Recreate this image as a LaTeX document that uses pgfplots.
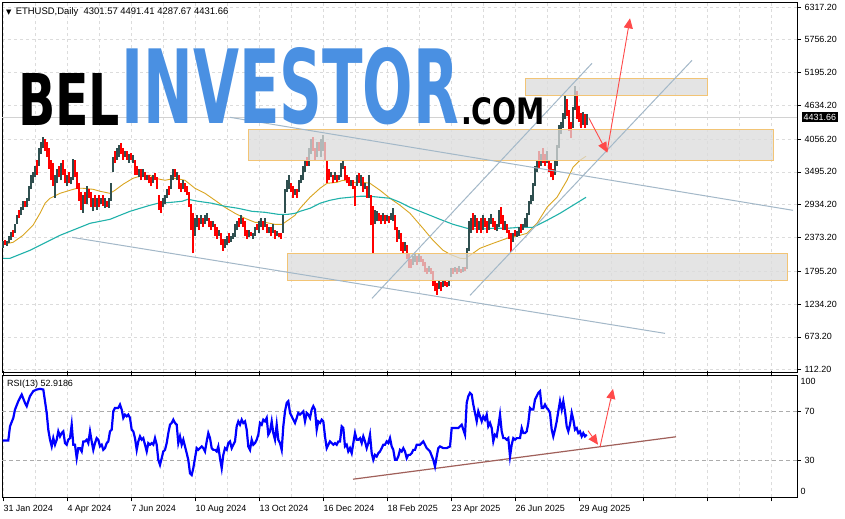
\documentclass[border=0pt]{standalone}
\usepackage{fontspec}
\setmainfont{Liberation Sans}
\newfontfamily\dejavu{DejaVu Sans}
\newfontfamily\logofont{DejaVu Sans}
\usepackage{graphicx}
\usepackage{pgfplots}
\usepackage{pgfplotstable}
\pgfplotsset{compat=1.18}
\usetikzlibrary{arrows.meta}
\definecolor{upc}{HTML}{2F4F4F}
\definecolor{dnc}{HTML}{FF0000}
\definecolor{maone}{HTML}{DAA520}
\definecolor{matwo}{HTML}{20B2AA}
\definecolor{chan}{HTML}{A3B8C8}
\definecolor{zonef}{HTML}{DCDCDC}
\definecolor{zoned}{HTML}{F2C475}
\definecolor{arr}{HTML}{FF4A4A}
\definecolor{logob}{HTML}{4A90E2}
\definecolor{rsitl}{HTML}{A0605A}
\definecolor{gridc}{HTML}{DCDCDC}

\pgfplotstableread{
d lo hi
0 2200 2320
4 2230 2310
6 2280 2400
8 2330 2460
12 2450 2600
14 2600 2750
18 2750 2900
20 2850 3000
24 2900 3050
26 3000 3250
28 3200 3450
30 3300 3500
32 3400 3600
36 3600 3900
38 3800 4000
40 3900 4090
52 3050 3450
54 3300 3550
58 3350 3650
64 3250 3450
68 3280 3400
70 3350 3720
80 2800 3100
84 2950 3250
90 2820 3050
94 2850 3050
98 2950 3050
102 2880 3050
106 2880 3050
108 3000 3300
110 3500 3750
114 3700 3900
116 3750 3950
122 3750 3850
126 3650 3800
130 3650 3780
136 3400 3550
140 3400 3550
144 3350 3450
150 3300 3450
160 2900 3050
162 2950 3100
164 3050 3200
168 3200 3450
170 3350 3550
174 3350 3500
180 3200 3350
192 2400 2700
194 2550 2750
198 2600 2750
202 2600 2750
204 2650 2800
210 2550 2650
216 2400 2500
222 2200 2350
224 2250 2400
228 2300 2400
230 2350 2450
232 2380 2600
234 2500 2650
238 2600 2750
246 2380 2500
250 2350 2450
252 2400 2550
256 2450 2650
258 2550 2700
262 2550 2700
266 2450 2550
270 2450 2600
274 2400 2480
280 2450 2750
282 2800 3200
284 3150 3350
286 3200 3450
292 3100 3200
296 3150 3350
298 3300 3450
300 3350 3600
302 3500 3700
306 3600 3900
308 3800 4050
314 3750 4000
318 3750 4050
320 3850 4120
328 3400 3500
332 3350 3500
336 3350 3450
338 3400 3650
340 3550 3700
348 3250 3350
354 3250 3450
358 3250 3450
362 3200 3300
366 3050 3440
372 2600 2850
374 2650 2820
380 2650 2800
384 2650 2760
388 2680 2800
390 2650 2870
396 2350 2500
402 2150 2300
410 1900 2050
412 1950 2100
416 1950 2100
426 1780 1880
436 1500 1650
440 1520 1640
446 1550 1650
448 1700 1850
452 1780 1860
456 1780 1880
460 1780 1860
464 1830 2200
466 2150 2650
468 2450 2700
472 2550 2750
476 2500 2650
480 2500 2750
486 2500 2700
488 2600 2780
494 2480 2600
496 2550 2850
502 2500 2650
510 2300 2450
514 2380 2480
516 2400 2550
520 2500 2600
522 2550 2700
524 2550 2800
526 2750 3000
528 2950 3100
530 3000 3300
532 3250 3600
534 3500 3700
538 3600 3800
544 3650 3850
552 3450 3700
554 3600 3950
556 3900 4300
558 4150 4350
560 4250 4500
562 4400 4800
570 4250 4600
572 4550 4960
580 4300 4520
584 4290 4490
}\upc

\pgfplotstableread{
d lo hi
2 2250 2330
10 2380 2500
16 2700 2850
22 2900 3000
34 3450 3700
42 3850 4050
44 3750 4000
46 3550 3900
48 3350 3700
50 3250 3650
56 3400 3600
60 3450 3700
62 3300 3550
66 3300 3500
72 3400 3700
74 3200 3500
76 3000 3300
78 2850 3150
82 2950 3150
86 3050 3200
88 2900 3150
92 2900 3100
96 2900 3100
100 2920 3100
104 2900 3000
112 3650 3850
118 3800 3990
120 3700 3900
124 3700 3850
128 3700 3820
132 3450 3700
134 3450 3600
138 3350 3550
142 3350 3500
146 3300 3450
148 3250 3400
152 3350 3480
154 3200 3400
156 2850 3100
158 2800 3000
166 3100 3250
172 3400 3550
176 3200 3450
178 3150 3300
182 3150 3300
184 3100 3250
186 2900 3150
188 2500 2950
190 2100 2800
196 2500 2700
200 2550 2700
206 2550 2700
208 2500 2650
212 2400 2600
214 2350 2550
218 2250 2450
220 2150 2350
226 2280 2450
236 2550 2700
240 2550 2700
242 2400 2650
244 2350 2500
248 2400 2470
254 2500 2600
260 2500 2650
264 2450 2600
268 2400 2550
272 2350 2500
276 2380 2450
278 2350 2450
288 3150 3300
290 3050 3250
294 3050 3200
304 3600 3750
310 3850 4090
312 3700 3900
316 3850 4000
322 3700 4000
324 3300 3700
326 3350 3550
330 3300 3450
334 3320 3450
342 3350 3600
344 3300 3450
346 3250 3400
350 3200 3350
352 2920 3250
356 3300 3480
360 3150 3400
364 3050 3250
368 2580 3100
370 2100 2920
376 2650 2800
378 2600 2750
382 2600 2750
386 2620 2740
392 2500 2750
394 2300 2550
398 2150 2450
400 2100 2300
404 2000 2250
406 1850 2100
408 1850 2000
414 1900 2050
418 1950 2050
420 1880 2000
422 1780 1950
424 1750 1850
428 1750 1850
430 1550 1800
432 1450 1650
434 1390 1600
438 1450 1620
442 1550 1650
444 1520 1620
450 1750 1850
454 1750 1850
458 1770 1830
462 1800 1870
470 2500 2800
474 2450 2700
478 2450 2700
482 2550 2700
484 2450 2650
490 2550 2700
492 2500 2650
498 2600 2890
500 2500 2750
504 2450 2600
506 2350 2500
508 2120 2450
512 2400 2500
518 2450 2600
536 3550 3850
540 3650 3900
542 3600 3800
546 3500 3700
548 3400 3650
550 3350 3550
564 4450 4750
566 4200 4550
568 4080 4350
574 4400 4880
576 4350 4620
578 4250 4500
582 4250 4480
}\dnc

\pgfplotstableread{
d r
-0.3 46.5
5.3 46.5
7 58.0
10.3 64.9
12 71.7
15.3 78.6
18.7 84.0
22 77.2
23.7 74.5
27 82.7
30.3 86.8
33.7 88.1
37 88.7
40.3 88.1
42 78.6
43.7 69.0
45.3 55.3
47 47.1
48.7 41.6
50.3 48.4
52 43.0
53.7 47.1
55.3 53.9
57 49.8
58.7 52.5
60.3 53.9
62 44.3
63.7 43.0
65.3 47.1
67 48.4
68.7 59.4
70.3 43.0
72 43.0
73.7 32.0
75.3 40.2
77 40.2
78.7 37.5
80.3 45.7
82 45.7
83.7 47.1
85.3 44.3
87 53.9
88.7 45.7
90.3 38.8
92 44.3
93.7 48.4
95.3 47.1
97 41.6
98.7 43.0
100.3 38.8
102 40.2
103.7 44.3
105.3 45.7
107 53.9
108.7 55.3
110.3 70.3
112 73.1
115.3 73.1
117 75.8
118.7 71.7
120.3 64.9
122 67.6
123.7 66.2
125.3 67.6
127 64.9
128.7 55.3
130.3 53.9
132 48.4
133.7 38.8
135.3 45.7
137 49.8
138.7 47.1
140.3 48.4
142 43.0
143.7 37.5
145.3 44.3
147 43.0
148.7 44.3
150.3 43.0
152 48.4
153.7 43.0
155.3 30.6
157 26.5
158.7 32.0
160.3 37.5
162 38.8
163.7 44.3
165.3 52.5
167 59.4
168.7 60.8
170.3 63.5
172 60.8
173.7 59.4
175.3 44.3
177 49.8
178.7 43.0
180.3 47.1
182 41.6
183.7 36.1
185.3 30.6
187 19.7
188.7 18.3
190.3 23.8
192 32.0
193.7 40.2
195.3 38.8
197 40.2
198.7 41.6
200.3 40.2
202 37.5
203.7 45.7
205.3 52.5
207 48.4
208.7 40.2
210.3 38.8
212 38.8
213.7 37.5
215.3 41.6
217 32.0
218.7 23.8
220.3 34.7
222 40.2
223.7 38.8
225.3 44.3
227 45.7
228.7 40.2
230.3 43.0
232 45.7
233.7 58.0
235.3 62.1
237 59.4
238.7 63.5
240.3 60.8
242 62.1
243.7 55.3
245.3 41.6
247 38.8
248.7 47.1
250.3 43.0
252 44.3
253.7 47.1
255.3 51.2
257 60.8
258.7 59.4
260.3 63.5
262 62.1
263.7 64.9
265.3 51.2
267 53.9
268.7 62.1
270.3 52.5
272 47.1
273.7 59.4
275.3 47.1
277 44.3
278.7 38.8
280.3 58.0
282 70.3
283.7 77.2
285.3 78.6
287 69.0
288.7 66.2
290.3 63.5
292 60.8
293.7 64.9
295.3 69.0
297 67.6
298.7 69.0
300.3 70.3
302 62.1
303.7 69.0
305.3 67.6
307 64.9
308.7 71.7
310.3 74.5
312 71.7
313.7 55.3
315.3 62.1
317 60.8
318.7 63.5
320.3 62.1
322 49.8
323.7 40.2
325.3 43.0
327 45.7
328.7 44.3
330.3 43.0
332 44.3
333.7 43.0
335.3 45.7
337 45.7
338.7 58.0
340.3 56.6
342 41.6
343.7 43.0
345.3 37.5
347 40.2
348.7 36.1
350.3 44.3
352 52.5
353.7 47.1
355.3 47.1
357 48.4
358.7 44.3
360.3 49.8
362 45.7
363.7 40.2
365.3 44.3
367 51.2
368.7 36.1
370.3 30.6
372 34.7
373.7 33.4
375.3 36.1
377 37.5
378.7 40.2
380.3 43.0
382 43.0
383.7 45.7
385.3 44.3
387 48.4
388.7 41.6
390.3 38.8
392 30.6
393.7 30.6
395.3 33.4
397 38.8
398.7 37.5
400.3 40.2
402 37.5
403.7 32.0
405.3 34.7
407 34.7
408.7 36.1
410.3 38.8
412 38.8
413.7 43.0
417 43.0
420.3 45.7
423.7 40.2
427 37.5
430.3 30.6
432 25.2
433.7 33.4
435.3 40.2
437 41.6
440.3 40.2
443.7 40.2
447 41.6
448.7 56.6
452 56.6
455.3 56.6
458.7 59.4
460.3 55.3
462 51.2
463.7 77.2
465.3 82.7
467 85.4
468.7 84.0
470.3 75.8
472 69.0
473.7 62.1
475.3 70.3
477 66.2
478.7 62.1
480.3 66.2
482 63.5
483.7 67.6
485.3 58.0
487 60.8
488.7 56.6
490.3 45.7
492 51.2
493.7 49.8
495.3 58.0
497 67.6
498.7 53.9
500.3 48.4
502 48.4
503.7 47.1
505.3 48.4
507 33.4
508.7 43.0
510.3 48.4
512 47.1
513.7 48.4
517 48.4
518.7 56.6
520.3 52.5
522 52.5
523.7 53.9
525.3 60.8
527 73.1
528.7 71.7
530.3 71.7
532 79.9
533.7 82.7
535.3 85.4
537 86.8
538.7 73.1
540.3 73.1
542 75.8
543.7 73.1
545.3 71.7
547 69.0
548.7 55.3
550.3 49.8
552 55.3
553.7 62.1
555.3 70.3
557 78.6
558.7 71.7
560.3 78.6
562 70.3
563.7 58.0
565.3 53.9
567 59.4
568.7 69.0
570.3 63.5
572 55.3
573.7 56.6
575.3 52.5
577 53.9
578.7 49.8
580.3 52.5
582 49.8
583.7 51.2
}\rsi

\pgfplotsset{
  mtstyle/.style={
    scale only axis, width=795bp, xmin=-1, xmax=794,
    clip mode=individual,
    axis line style={line width=0.8bp, black},
    xtick={0,64,...,768}, minor x tick num=1,
    xmajorgrids, xminorgrids,
    major grid style={dash pattern=on 3bp off 3bp, gridc, line width=0.6bp},
    minor grid style={dash pattern=on 3bp off 3bp, gridc, line width=0.6bp},
    ytick pos=right, yticklabel pos=right,
    tick align=outside, major tick length=4bp, minor tick length=0bp,
    tick style={black, line width=0.6bp},
    tick label style={font=\fontsize{9}{10}\selectfont},
    /pgf/number format/assume math mode=true,
  }
}

\begin{document}
\begin{tikzpicture}
\fill[white] (0,0) rectangle (845bp,-519bp);
\path[use as bounding box] (0,0) rectangle (845bp,-519bp);

\begin{axis}[mtstyle, name=main, at={(2bp,-2bp)}, anchor=north west,
  height=370bp, ymin=72, ymax=6402,
  xticklabels={}, x tick style={draw=none},
  ytick={112.2,673.2,1234.2,1795.2,2373.2,2934.2,3495.2,4056.2,4634.2,5195.2,5756.2,6317.2},
  yticklabels={112.20,673.20,1234.20,1795.20,2373.20,2934.20,3495.20,4056.20,4634.20,5195.20,5756.20,6317.20},
  ymajorgrids]
% current price line
\addplot[gray!35, line width=0.6bp, forget plot] coordinates {(-1,4431.66) (794,4431.66)};
% moving averages
\addplot[maone, line width=0.9bp, forget plot] coordinates {(0,2256)(10,2290)(20,2410)(30,2581)(37,2787)(42,2958)(47,3044)(57,3129)(67,3181)(74,3215)(80,3215)(90,3198)(97,3164)(107,3129)(112,3181)(120,3283)(130,3386)(140,3437)(147,3437)(152,3386)(162,3352)(172,3386)(182,3352)(192,3215)(202,3129)(212,3010)(222,2889)(232,2787)(242,2701)(252,2633)(262,2633)(272,2598)(279,2598)(285,2668)(292,2753)(297,2872)(307,3061)(317,3215)(324,3300)(334,3317)(340,3352)(350,3317)(360,3317)(367,3300)(377,3181)(387,3044)(397,2924)(407,2787)(420,2530)(430,2325)(440,2155)(447,2086)(457,2018)(462,2010)(468,2080)(477,2189)(490,2273)(504,2359)(517,2411)(524,2445)(534,2616)(544,2890)(554,3061)(564,3352)(570,3574)(577,3694)(583,3763)};
\addplot[matwo, line width=1.1bp, forget plot] coordinates {(0,2017)(7,2017)(17,2085)(27,2154)(37,2239)(47,2325)(57,2410)(67,2479)(77,2547)(87,2616)(97,2650)(107,2684)(117,2753)(127,2821)(137,2873)(147,2924)(155,2959)(169,2976)(179,2993)(185,3027)(195,2993)(209,2959)(222,2907)(235,2873)(249,2821)(262,2804)(275,2770)(285,2770)(292,2787)(297,2821)(307,2873)(317,2959)(327,3010)(337,3044)(347,3061)(357,3078)(367,3078)(377,3061)(387,3044)(397,2976)(407,2890)(417,2821)(427,2753)(437,2684)(450,2599)(464,2531)(477,2514)(490,2531)(504,2531)(517,2547)(530,2547)(544,2667)(557,2787)(570,2924)(583,3061)};
% candles
\addplot[draw=none, mark=none, forget plot, error bars/.cd, y dir=plus, y explicit, error mark=none,
  error bar style={draw=upc, line width=1.6bp}]
  table[x=d, y=lo, y error expr=\thisrow{hi}-\thisrow{lo}] {\upc};
\addplot[draw=none, mark=none, forget plot, error bars/.cd, y dir=plus, y explicit, error mark=none,
  error bar style={draw=dnc, line width=1.6bp}]
  table[x=d, y=lo, y error expr=\thisrow{hi}-\thisrow{lo}] {\dnc};
% zones
\addplot[fill=zonef, fill opacity=0.75, draw=zoned, line width=0.9bp, forget plot] coordinates {(522,4800) (704,4800) (704,5101) (522,5101)} --cycle;
\addplot[fill=zonef, fill opacity=0.75, draw=zoned, line width=0.9bp, forget plot] coordinates {(245,3693) (770,3693) (770,4219) (245,4219)} --cycle;
\addplot[fill=zonef, fill opacity=0.75, draw=zoned, line width=0.9bp, forget plot] coordinates {(284,1640) (784,1640) (784,2097) (284,2097)} --cycle;
% channels
\addplot[chan, line width=1bp, forget plot] coordinates {(227,4429) (790,2838)};
\addplot[chan, line width=1bp, forget plot] coordinates {(69,2376) (662,733)};
\addplot[chan, line width=1bp, forget plot] coordinates {(369,1332) (589,5353)};
\addplot[chan, line width=1bp, forget plot] coordinates {(467,1383) (689,5404)};
% arrows
\addplot[arr, line width=0.9bp, -{Triangle[length=10bp,width=9bp]}, forget plot] coordinates {(586,4412) (604,3830)};
\addplot[arr, line width=0.9bp, -{Triangle[length=10bp,width=9bp]}, forget plot] coordinates {(604,3830) (627,6123)};
% logo
\node[anchor=south west, inner sep=0pt] at (axis cs:15,4292) {\resizebox{102bp}{52bp}{\logofont\bfseries BEL}};
\node[anchor=south west, inner sep=0pt, text=logob] at (axis cs:118,4292) {\resizebox{338bp}{76bp}{\logofont\bfseries INVESTOR}};
\node[anchor=south west, inner sep=0pt] at (axis cs:458,4292) {\resizebox{84bp}{27bp}{\logofont\bfseries .COM}};
% title
\node[anchor=north west, inner sep=0pt, font=\fontsize{9.5}{10}\selectfont] at ([xshift=4bp,yshift=-5bp]rel axis cs:0,1) {{\dejavu\fontsize{7}{7}\selectfont ▼}\ \,ETHUSD,Daily\ \ 4301.57 4491.41 4287.67 4431.66};
% price label
\node[anchor=west, fill=black, text=white, inner sep=1.5bp, font=\fontsize{9}{10}\selectfont] at ([xshift=5bp]axis cs:794,4431.66) {4431.66};
\end{axis}

\begin{axis}[mtstyle, name=rsi, at={(2bp,-375bp)}, anchor=north west,
  height=122.3bp, ymin=0, ymax=100,
  ytick={30,70}, yticklabels={30,70},
  extra y ticks={4.6,95}, extra y tick labels={0,100},
  extra y tick style={major tick length=0bp},
  xticklabels={31 Jan 2024,4 Apr 2024,7 Jun 2024,10 Aug 2024,13 Oct 2024,16 Dec 2024,18 Feb 2025,23 Apr 2025,26 Jun 2025,29 Aug 2025,{},{},{}},
  xticklabel style={anchor=north west, xshift=-3bp}]
\addplot[gray!65, dash pattern=on 4bp off 3bp, line width=0.7bp, forget plot] coordinates {(-1,30) (794,30)};
\addplot[gray!65, dash pattern=on 4bp off 3bp, line width=0.7bp, forget plot] coordinates {(-1,70) (794,70)};
\addplot[rsitl, line width=1.2bp, forget plot] coordinates {(350,14.8) (673,49.5)};
\addplot[blue, line width=2.2bp, forget plot] table[x=d, y=r] {\rsi};
\addplot[arr, line width=0.9bp, -{Triangle[length=10bp,width=9bp]}, forget plot] coordinates {(585,54.5) (595,43.0)};
\addplot[arr, line width=0.9bp, -{Triangle[length=10bp,width=9bp]}, forget plot] coordinates {(597,41.1) (610,88.7)};
\node[anchor=north west, inner sep=0pt, font=\fontsize{9}{10}\selectfont] at ([xshift=5bp,yshift=-5bp]rel axis cs:0,1) {RSI(13) 52.9186};
\end{axis}
\end{tikzpicture}
\end{document}
